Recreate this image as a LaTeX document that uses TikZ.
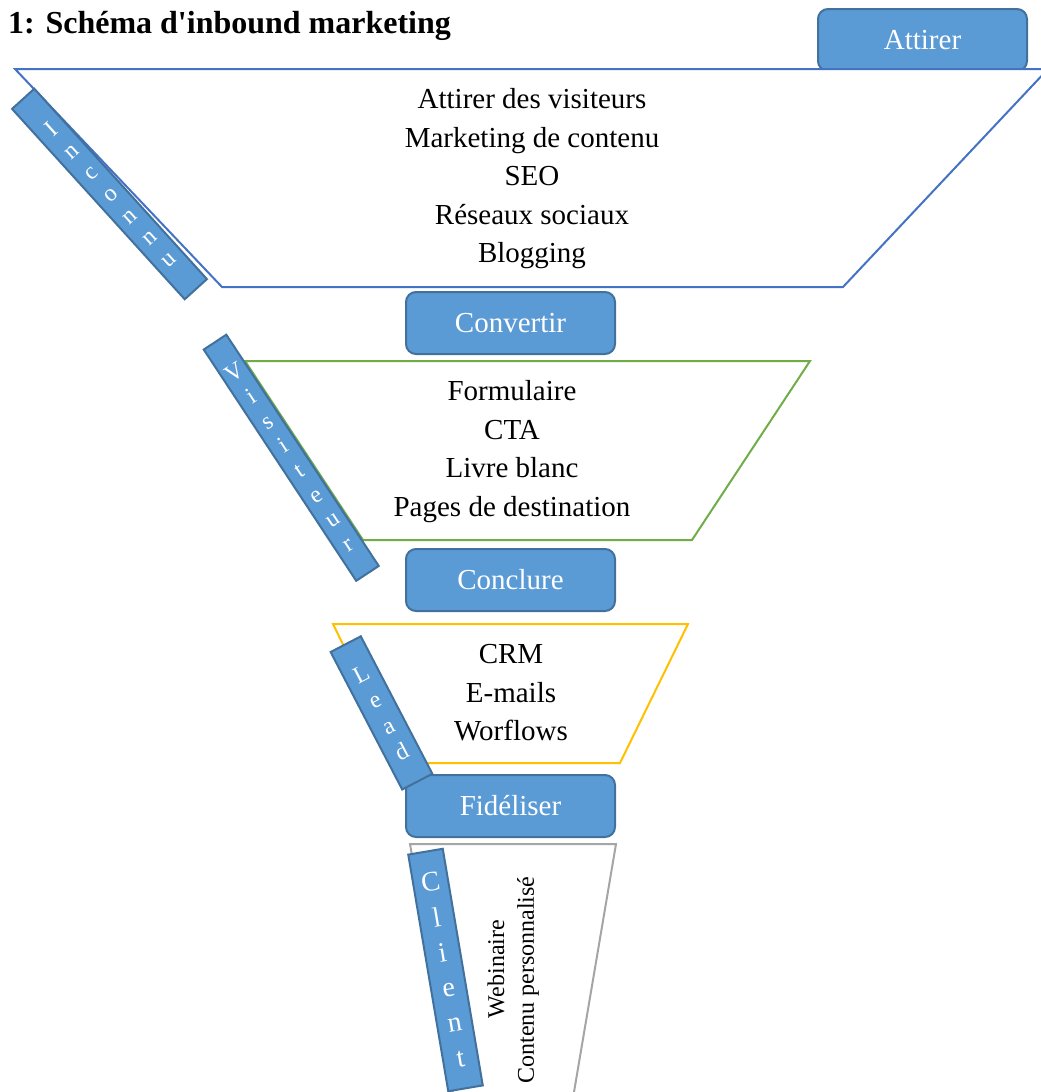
\documentclass[tikz,border=0pt]{standalone}
\usepackage{fontspec}
\setmainfont{Liberation Serif}
\definecolor{boxfill}{HTML}{5B9BD5}
\definecolor{boxline}{HTML}{41719C}
\definecolor{fblue}{HTML}{4472C4}
\definecolor{fgreen}{HTML}{70AD47}
\definecolor{fyellow}{HTML}{FFC000}
\definecolor{fgray}{HTML}{A5A5A5}
\begin{document}
\begin{tikzpicture}[x=1pt,y=-1pt,
 stagebox/.style={draw=boxline, fill=boxfill, line width=2pt, rounded corners=10pt, minimum width=209pt, minimum height=62pt, text=white, font=\fontsize{29}{34}\selectfont, inner sep=0pt},
 tag/.style={draw=boxline, fill=boxfill, line width=2pt, text=white, align=center, inner sep=0pt},
 funnel/.style={line width=2pt, fill=white, line join=miter},
 ftext/.style={align=center, font=\fontsize{29}{38.5}\selectfont, inner sep=0pt},
 vtext/.style={rotate=90, font=\fontsize{24}{28}\selectfont, inner sep=0pt}
]
\useasboundingbox (0,0) rectangle (1041,1092);

\node[anchor=base west, font=\bfseries\fontsize{32}{38}\selectfont, inner sep=0pt] (title) at (8,33) {1: Schéma d\textquotesingle inbound marketing};

\node[stagebox] (attirer) at (922.5,40) {Attirer};

\draw[funnel, draw=fblue] (15,69) -- (1048,69) -- (843,287) -- (222,287) -- cycle;
\draw[funnel, draw=fgreen] (245,361) -- (810,361) -- (692,540) -- (363,540) -- cycle;
\draw[funnel, draw=fyellow] (333,624) -- (688,624) -- (620,763) -- (401,763) -- cycle;
\draw[funnel, draw=fgray] (453,1092) -- (410,844) -- (616,844) -- (574,1092);

\node[stagebox] (convertir) at (510.5,323) {Convertir};
\node[stagebox] (conclure) at (510.5,580) {Conclure};
\node[stagebox] (fideliser) at (510.5,806) {Fidéliser};

\node[ftext] (attirertext) at (532,179) {Attirer des visiteurs\\Marketing de contenu\\SEO\\Réseaux sociaux\\Blogging};
\node[ftext] (convertirtext) at (512,451.5) {Formulaire\\CTA\\Livre blanc\\Pages de destination};
\node[ftext] (conclturetext) at (511,693) {CRM\\E-mails\\Worflows};
\node[vtext] (webinaire) at (496,969) {Webinaire};
\node[vtext] (contenu) at (528,980) {Contenu personnalisé};

\node[tag, minimum width=30pt, minimum height=257pt, rotate=42.2, font=\fontsize{24}{29}\selectfont] (inconnu) at (109.5,194) {I\\n\\c\\o\\n\\n\\u};
\node[tag, minimum width=27pt, minimum height=277pt, rotate=33.4, font=\fontsize{24}{29.4}\selectfont] (visiteur) at (291.25,457.75) {V\\i\\s\\i\\t\\e\\u\\r};
\node[tag, minimum width=34pt, minimum height=155pt, rotate=27.5, font=\fontsize{24}{29}\selectfont] (lead) at (381.5,712.9) {L\\e\\a\\d};
\node[tag, minimum width=35pt, minimum height=240pt, rotate=9.6, font=\fontsize{28}{35.6}\selectfont] (client) at (445.5,970) {C\\l\\i\\e\\n\\t};
\end{tikzpicture}
\end{document}
